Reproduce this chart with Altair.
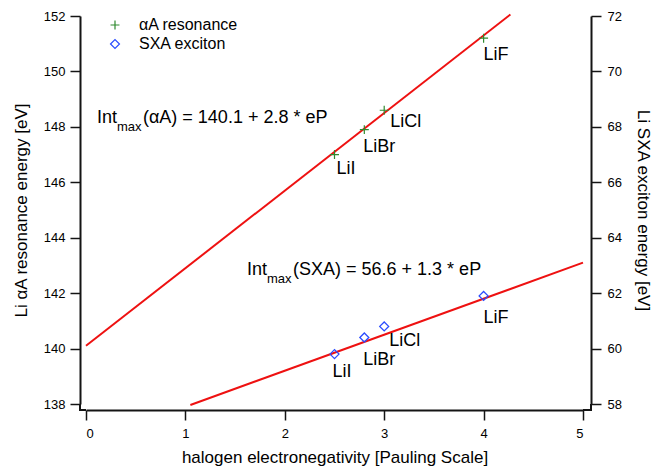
import altair as alt
import pandas as pd

FONT = "Liberation Sans"
FRAME = "#141414"
FRAME_WIDTH = 2

# Lithium halides and the halogen electronegativity (Pauling)
compounds = ["LiI", "LiBr", "LiCl", "LiF"]
electronegativity = [2.5, 2.8, 3.0, 4.0]

# Peak energies [eV]
alpha_a_energy = [147.0, 147.9, 148.6, 151.2]   # Li alphaA resonance (left axis)
sxa_energy = [59.8, 60.4, 60.8, 61.9]           # Li SXA exciton (right axis)

# Linear fits: intercept, slope, and the eP span they are drawn over
alpha_fit = (140.1, 2.8)
alpha_fit_span = [0.0, 4.27]
sxa_fit = (56.6, 1.3)
sxa_fit_span = [1.05, 5.0]

series_names = ["αA resonance", "SXA exciton"]

x_ticks = [0, 1, 2, 3, 4, 5]
left_ticks = [138, 140, 142, 144, 146, 148, 150, 152]
right_ticks = [58, 60, 62, 64, 66, 68, 70, 72]

# Equation anchors (data units) for the two fit annotations
alpha_eq_anchor = (0.11, 148.14)
sxa_eq_anchor = (1.62, 62.65)

alpha_df = pd.DataFrame({"eP": electronegativity, "E": alpha_a_energy,
                         "compound": compounds, "series": series_names[0]})
sxa_df = pd.DataFrame({"eP": electronegativity, "E": sxa_energy,
                       "compound": compounds, "series": series_names[1]})


def fit_frame(fit, span):
    a, b = fit
    return pd.DataFrame({"eP": span, "E": [a + b * x for x in span]})


alpha_fit_df = fit_frame(alpha_fit, alpha_fit_span)
sxa_fit_df = fit_frame(sxa_fit, sxa_fit_span)

# label placement (pixels) relative to each marker
alpha_label_offsets = {"LiI": (2, 19), "LiBr": (-1, 22), "LiCl": (6, 17), "LiF": (0, 22)}
sxa_label_offsets = {"LiI": (-2, 23), "LiBr": (-1, 28), "LiCl": (5, 20), "LiF": (0, 27)}

axis_common = dict(domain=True, domainColor=FRAME, domainWidth=FRAME_WIDTH, grid=False,
                   tickSize=10, tickWidth=1.5, tickColor=FRAME,
                   labelFont=FONT, labelFontSize=13, labelColor="black",
                   titleFont=FONT, titleFontSize=17, titleFontWeight="normal",
                   titleColor="black")

X = alt.X("eP:Q", scale=alt.Scale(domain=[0, 5], nice=False),
          axis=alt.Axis(values=x_ticks, title="halogen electronegativity [Pauling Scale]",
                        offset=6, labelPadding=7, titlePadding=9, **axis_common))
Y_left = alt.Y("E:Q", scale=alt.Scale(domain=[138, 152], nice=False, zero=False),
               axis=alt.Axis(values=left_ticks, title="Li αA resonance energy [eV]",
                             orient="left", offset=6, labelPadding=5, titlePadding=13,
                             **axis_common))
Y_right = alt.Y("E:Q", scale=alt.Scale(domain=[58, 72], nice=False, zero=False),
                axis=alt.Axis(values=right_ticks, title="Li SXA exciton energy [eV]",
                              orient="right", offset=8, labelPadding=6, titlePadding=12,
                              **axis_common))

legend = alt.Legend(title=None, orient="none", legendX=21, legendY=1, padding=0,
                    labelFont=FONT, labelFontSize=16, labelColor="black",
                    labelOffset=16, rowPadding=3, symbolSize=80, symbolStrokeWidth=1.2,
                    symbolOpacity=1)
color = alt.Color("series:N", scale=alt.Scale(domain=series_names,
                                              range=["#2f8a2f", "#2a4cff"]), legend=legend)
shape = alt.Shape("series:N", scale=alt.Scale(domain=series_names,
                                              range=["M-1,0L1,0M0,-1L0,1", "diamond"]),
                  legend=legend)

line_style = dict(color="#ee1111", strokeWidth=2)


def label_layers(df, offsets, y):
    layers = []
    for name, (dx, dy) in offsets.items():
        layers.append(
            alt.Chart(df[df["compound"] == name].reset_index(drop=True)).mark_text(
                align="left", baseline="alphabetic", dx=dx, dy=dy,
                font=FONT, fontSize=18, color="black"
            ).encode(x=X, y=y, text="compound:N")
        )
    return layers


def equation_layers(anchor, name, fit, y):
    a, b = fit
    df = pd.DataFrame({"eP": [anchor[0]], "E": [anchor[1]]})
    base = alt.Chart(df)
    common = dict(align="left", baseline="alphabetic", font=FONT, color="black")
    return [
        base.mark_text(text="Int", fontSize=18, **common).encode(x=X, y=y),
        base.mark_text(text="max", fontSize=13, dx=20, dy=8, **common).encode(x=X, y=y),
        base.mark_text(text=f"({name}) = {a} + {b} * eP", fontSize=18, dx=46,
                       **common).encode(x=X, y=y),
    ]


# short joins so the three offset axis lines meet at the lower corners
corner_src = alt.Chart(pd.DataFrame({"k": [0]}))
corners = alt.layer(
    corner_src.mark_rule(color=FRAME, strokeWidth=FRAME_WIDTH).encode(
        x=alt.value(-6), y=alt.value(388), y2=alt.value(395)),
    corner_src.mark_rule(color=FRAME, strokeWidth=FRAME_WIDTH).encode(
        x=alt.value(-7), x2=alt.value(0), y=alt.value(394)),
    corner_src.mark_rule(color=FRAME, strokeWidth=FRAME_WIDTH).encode(
        x=alt.value(505), y=alt.value(388), y2=alt.value(395)),
    corner_src.mark_rule(color=FRAME, strokeWidth=FRAME_WIDTH).encode(
        x=alt.value(497), x2=alt.value(506), y=alt.value(394)),
)

alpha_layer = alt.layer(
    alt.Chart(alpha_fit_df).mark_line(**line_style).encode(x=X, y=Y_left),
    alt.Chart(alpha_df).mark_point(filled=False, size=80, strokeWidth=1.2, opacity=1).encode(
        x=X, y=Y_left, color=color, shape=shape),
    *label_layers(alpha_df, alpha_label_offsets, Y_left),
    *equation_layers(alpha_eq_anchor, "αA", alpha_fit, Y_left),
)

sxa_layer = alt.layer(
    alt.Chart(sxa_fit_df).mark_line(**line_style).encode(x=X, y=Y_right),
    alt.Chart(sxa_df).mark_point(filled=False, size=80, strokeWidth=1.3, opacity=1).encode(
        x=X, y=Y_right, color=color, shape=shape),
    *label_layers(sxa_df, sxa_label_offsets, Y_right),
    *equation_layers(sxa_eq_anchor, "SXA", sxa_fit, Y_right),
)

chart = alt.layer(alpha_layer, sxa_layer, corners).resolve_scale(y="independent").properties(
    width=497, height=388,
    autosize=alt.AutoSizeParams(type="none"),
    padding={"left": 86, "top": 16, "right": 80, "bottom": 65},
    background="white",
).configure_view(stroke=None)

chart.save("out.html", embed_options={"renderer": "svg", "actions": False})
